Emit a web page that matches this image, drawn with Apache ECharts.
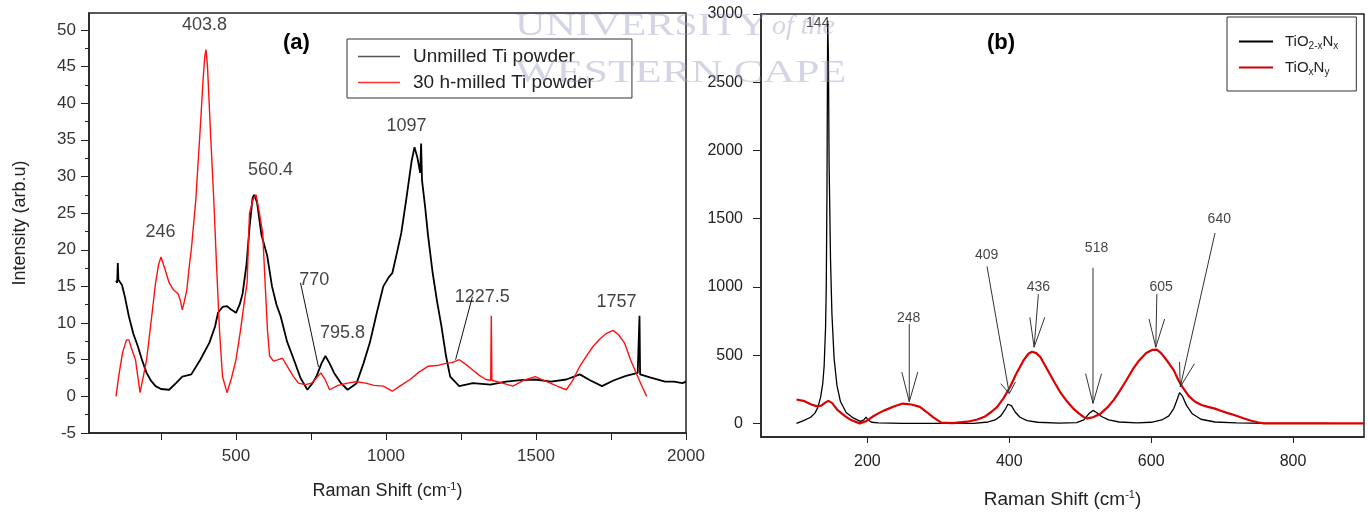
<!DOCTYPE html>
<html><head><meta charset="utf-8">
<script src="https://cdn.jsdelivr.net/npm/echarts@6/dist/echarts.min.js"></script>
<style>html,body{margin:0;padding:0;background:#fff}#c{width:1368px;height:514px}</style>
</head><body><div id="c"></div>
<script>
// ---------- Panel (a) data ----------
const unmilled = [[100,15.8],[104,15.5],[106,18.2],[108,15.9],[120,15.2],[130,13.5],[143,10.9],[158,8.5],[173,6.8],[188,4.8],[202,3.2],[217,2.1],[232,1.4],[250,1.0],[277,0.9],[300,1.8],[321,2.7],[351,3.0],[381,5.0],[411,7.3],[430,9.5],[440,11.4],[455,12.2],[470,12.3],[485,11.8],[500,11.4],[512,12.5],[522,14.0],[535,18],[545,23],[555,27],[560,27.5],[570,26.5],[585,22],[604,19.2],[620,15],[635,12.5],[649,10.9],[670,7.5],[693,5.0],[715,2.5],[738,0.9],[755,1.8],[768,2.7],[785,4.5],[798,5.5],[812,4.5],[827,3.2],[850,1.8],[872,0.9],[902,1.8],[925,4.5],[946,7.3],[970,11.5],[991,15],[1010,16.3],[1021,16.8],[1036,19.5],[1051,22.3],[1068,27],[1085,32],[1095,34],[1105,32.5],[1114,30.5],[1117,34.5],[1120,29.5],[1130,26],[1140,22],[1155,17],[1170,13],[1185,9.5],[1200,5.5],[1214,2.7],[1244,1.4],[1290,1.8],[1348,1.6],[1400,2.0],[1450,2.2],[1497,2.3],[1550,2.0],[1601,2.3],[1646,3.0],[1680,2.2],[1720,1.4],[1760,2.2],[1800,2.8],[1839,3.2],[1844,3.0],[1845,11],[1847,3.0],[1880,2.6],[1930,2.0],[1960,2.0],[1988,1.8],[2000,2.0]];
const milled = [[100,0],[110,3],[122,6],[135,7.7],[143,7.7],[152,6.5],[165,5.0],[175,2],[180,0.5],[190,2.5],[202,5.0],[215,9.5],[232,15.5],[242,18],[250,19],[262,17.5],[277,15.5],[292,14.5],[307,14.0],[315,13],[321,11.8],[328,13],[336,14.5],[345,18],[351,20],[366,26.8],[380,36],[390,43],[396,46.4],[400,47.3],[405,45],[415,36],[426,26.8],[435,18],[445,9],[455,2.7],[470,0.5],[485,2.5],[500,5.0],[515,9],[528,13],[537,15.5],[545,25],[558,27],[567,27.5],[578,25],[589,22.3],[597,15.5],[605,9],[612,5.5],[625,4.8],[641,5.0],[655,5.2],[671,4.1],[690,2.8],[708,1.8],[730,1.6],[753,1.8],[770,2.6],[783,3.2],[798,2.2],[812,0.9],[840,1.5],[872,1.8],[900,2.0],[932,1.8],[960,1.5],[991,1.4],[1021,0.7],[1050,1.5],[1080,2.3],[1110,3.3],[1140,4.1],[1170,4.2],[1199,4.5],[1220,4.6],[1244,5.0],[1265,4.4],[1289,3.6],[1310,2.9],[1333,2.3],[1349,2.2],[1351,11],[1353,2.2],[1380,1.9],[1423,1.4],[1460,2.2],[1497,2.7],[1530,2.1],[1571,1.4],[1601,0.9],[1620,2.0],[1646,4.1],[1668,5.5],[1690,6.8],[1712,7.8],[1735,8.6],[1757,9.0],[1775,8.4],[1795,7.3],[1815,5.0],[1839,2.7],[1855,1.2],[1869,0]];
const aNames = ['Unmilled Ti powder', '30 h-milled Ti powder'];
const aLabels = [[395,50.7,'403.8'],[248,22.4,'246'],[615,30.9,'560.4'],[1068,36.9,'1097'],[761,15.9,'770'],[855,8.7,'795.8'],[1321,13.6,'1227.5'],[1768,12.8,'1757']];
const aPointers = [[[715,15.5],[775,4.0]], [[1288,13.6],[1232,5.0]]];
const aXTicks = [250,500,750,1000,1250,1500,1750,2000];
const aXLabels = [500,1000,1500,2000];
const aYMajor = [-5,0,5,10,15,20,25,30,35,40,45,50];
const aYMinor = [-2.5,2.5,7.5,12.5,17.5,22.5,27.5,32.5,37.5,42.5,47.5];

// ---------- Panel (b) data ----------
const tio2xnx = [[100,0],[110,20],[120,45],[126,75],[130,115],[134,190],[137,290],[139,420],[141,700],[142,1000],[143,1700],[144,2950],[145,2700],[146,1900],[148,1200],[150,800],[153,480],[157,280],[162,160],[170,80],[180,40],[190,15],[195,25],[198,45],[201,25],[206,8],[215,3],[250,0],[350,0],[370,10],[380,25],[388,55],[394,100],[398,140],[400,150],[403,130],[408,85],[415,45],[425,20],[440,8],[470,2],[495,5],[505,25],[512,70],[518,95],[523,80],[530,50],[540,25],[555,10],[580,3],[600,8],[615,25],[625,55],[632,110],[637,180],[640,225],[644,200],[650,130],[658,70],[670,30],[690,10],[720,3],[760,0],[850,0]];
const tioxny = [[100,175],[110,165],[120,140],[128,126],[135,130],[140,150],[145,165],[150,150],[158,97],[168,55],[177,24],[189,0],[198,15],[207,48],[216,75],[225,97],[238,125],[250,145],[262,138],[274,121],[283,85],[292,48],[304,5],[320,2],[341,12],[355,28],[365,48],[375,85],[383,121],[392,185],[401,267],[410,365],[420,461],[427,510],[432,525],[438,515],[444,485],[453,400],[462,316],[471,235],[480,170],[490,110],[498,73],[505,45],[510,36],[518,45],[529,73],[538,115],[547,170],[556,240],[565,316],[574,395],[583,461],[593,515],[602,539],[608,540],[614,515],[623,455],[632,388],[638,320],[644,267],[653,200],[662,158],[671,135],[680,121],[690,108],[698,92],[708,75],[717,61],[730,38],[741,19],[750,8],[759,0],[900,0]];
const bNames = ['TiO2-xNx', 'TiOxNy'];
const bLegendRich = {'TiO2-xNx': '{n|TiO}{s|2-x}{n|N}{s|x}', 'TiOxNy': '{n|TiO}{s|x}{n|N}{s|y}'};
const bLabels = [[130,2936,'144'],[258,772,'248'],[368,1235,'409'],[441,1000,'436'],[523,1285,'518'],[614,1000,'605'],[696,1500,'640']];
const bPointers = [
  [[259,728],[259,158]], [[248.5,376],[259,158],[271,376]],
  [[368.6,1150],[400,218]], [[388,291],[400,218],[408.7,303]],
  [[441,947],[435,558]], [[429,777],[435,558],[450,777]],
  [[518,1141],[518,146]], [[507.6,364],[518,146],[530,364]],
  [[608,947],[606.5,558]], [[597,765],[606.5,558],[619,765]],
  [[690,1395],[641,267]], [[640,449],[641,267],[661,437]]
];
const bXTicks = [200,400,600,800];
const bYTicks = [0,500,1000,1500,2000,2500,3000];

const FONT = 'Liberation Sans, Arial, sans-serif';
const axisCol = '#222';
const wmFill = 'rgba(150,153,190,0.42)';
const chart = echarts.init(document.getElementById('c'), null, {renderer: 'canvas'});
const plain = v => String(v);

const option = {
  animation: false,
  textStyle: {fontFamily: FONT},
  grid: [
    {left: 89, top: 13, width: 597, height: 420, show: true, borderColor: axisCol, borderWidth: 1.5, backgroundColor: 'transparent'},
    {left: 761, top: 14, width: 603, height: 426, show: true, borderColor: axisCol, borderWidth: 1.5, backgroundColor: 'transparent'}
  ],
  xAxis: [
    {gridIndex: 0, type: 'value', min: 10, max: 2000,
     name: '{n|Raman Shift (cm}{p|-1}{n|)}', nameLocation: 'middle', nameGap: 48,
     nameTextStyle: {rich: {n: {fontSize: 18, color: '#222', fontFamily: FONT}, p: {fontSize: 11, color: '#222', fontFamily: FONT, padding: [0,0,10,0]}}},
     axisLine: {onZero: false, lineStyle: {color: axisCol, width: 1.5}},
     axisTick: {customValues: aXTicks, length: 7, lineStyle: {color: axisCol}},
     axisLabel: {customValues: aXLabels, fontSize: 17, color: '#333', margin: 15, formatter: plain},
     splitLine: {show: false}},
    {gridIndex: 1, type: 'value', min: 50, max: 900,
     name: '{n|Raman Shift (cm}{p|-1}{n|)}', nameLocation: 'middle', nameGap: 52,
     nameTextStyle: {rich: {n: {fontSize: 19, color: '#222', fontFamily: FONT}, p: {fontSize: 11, color: '#222', fontFamily: FONT, padding: [0,0,10,0]}}},
     axisLine: {onZero: false, lineStyle: {color: axisCol, width: 1.5}},
     axisTick: {customValues: bXTicks, length: 6, lineStyle: {color: axisCol}},
     axisLabel: {customValues: bXTicks, fontSize: 16, color: '#222', margin: 17, formatter: plain},
     splitLine: {show: false}}
  ],
  yAxis: [
    {gridIndex: 0, type: 'value', min: -5, max: 52.3,
     name: 'Intensity (arb.u)', nameLocation: 'middle', nameGap: 60, nameRotate: 90,
     nameTextStyle: {fontSize: 18, color: '#222'},
     axisLine: {onZero: false, lineStyle: {color: axisCol, width: 1.5}},
     axisTick: {customValues: aYMajor, length: 8, lineStyle: {color: axisCol}},
     axisLabel: {customValues: aYMajor, fontSize: 17, color: '#333', margin: 13, formatter: plain},
     splitLine: {show: false}},
    {gridIndex: 0, type: 'value', min: -5, max: 52.3, position: 'left',
     axisLine: {show: false},
     axisTick: {customValues: aYMinor, length: 4, lineStyle: {color: axisCol}},
     axisLabel: {show: false}, splitLine: {show: false}},
    {gridIndex: 1, type: 'value', min: -100, max: 3000,
     axisLine: {onZero: false, lineStyle: {color: axisCol, width: 1.5}},
     axisTick: {customValues: bYTicks, length: 8, lineStyle: {color: axisCol}},
     axisLabel: {customValues: bYTicks, fontSize: 16, color: '#222', margin: 18, formatter: plain},
     splitLine: {show: false}}
  ],
  legend: [
    {data: aNames, orient: 'vertical', left: 347, top: 39, itemWidth: 42, itemHeight: 1.5, itemGap: 7,
     icon: 'rect', padding: [8, 38, 6, 11], borderColor: '#333', borderWidth: 1, backgroundColor: '#fff',
     textStyle: {fontSize: 19, color: '#222', padding: [0,0,0,8]}, selectedMode: false},
    {data: bNames, orient: 'vertical', left: 1227, top: 17, itemWidth: 34, itemHeight: 2, itemGap: 9,
     icon: 'rect', padding: [17, 18, 14, 12], borderColor: '#333', borderWidth: 1, backgroundColor: '#fff',
     formatter: function (n) { return bLegendRich[n]; },
     textStyle: {color: '#222', padding: [0,0,0,7], rich: {
       n: {fontSize: 15, color: '#222', fontFamily: FONT},
       s: {fontSize: 10, color: '#222', fontFamily: FONT, padding: [9,0,0,0]}}},
     selectedMode: false}
  ],
  graphic: [
    {type: 'text', left: 515, top: 11, z: 200, scaleX: 1.36, style: {text: 'UNIVERSITY', fontFamily: 'Liberation Serif, serif', fontSize: 31, fill: wmFill}},
    {type: 'text', left: 772, top: 13, z: 200, style: {text: 'of the', fontFamily: 'Liberation Serif, serif', fontStyle: 'italic', fontSize: 28, fill: wmFill}},
    {type: 'text', left: 515, top: 58, z: 200, scaleX: 1.42, style: {text: 'WESTERN CAPE', fontFamily: 'Liberation Serif, serif', fontSize: 31, fill: wmFill}},
    {type: 'text', left: 283, top: 32, z: 100, style: {text: '(a)', fontFamily: FONT, fontWeight: 'bold', fontSize: 22, fill: '#000'}},
    {type: 'text', left: 987, top: 32, z: 100, style: {text: '(b)', fontFamily: FONT, fontWeight: 'bold', fontSize: 22, fill: '#000'}}
  ],
  series: [
    {name: aNames[0], type: 'line', xAxisIndex: 0, yAxisIndex: 0, data: unmilled, symbol: 'none', z: 3,
     lineStyle: {color: '#000', width: 1.8}, itemStyle: {color: '#555'}},
    {name: aNames[1], type: 'line', xAxisIndex: 0, yAxisIndex: 0, data: milled, symbol: 'none', z: 4,
     lineStyle: {color: '#ff1010', width: 1.4}, itemStyle: {color: '#ff3030'}},
    {name: bNames[0], type: 'line', xAxisIndex: 1, yAxisIndex: 2, data: tio2xnx, symbol: 'none', z: 3,
     lineStyle: {color: '#000', width: 1.3}, itemStyle: {color: '#000'}},
    {name: bNames[1], type: 'line', xAxisIndex: 1, yAxisIndex: 2, data: tioxny, symbol: 'none', z: 4,
     lineStyle: {color: '#dd0000', width: 2.2}, itemStyle: {color: '#cc0000'}},
    {type: 'scatter', xAxisIndex: 0, yAxisIndex: 0, data: aLabels, symbolSize: 0, z: 6, silent: true,
     label: {show: true, position: 'inside', formatter: p => p.data[2], fontSize: 18, color: '#111', fontFamily: FONT}},
    {type: 'lines', coordinateSystem: 'cartesian2d', xAxisIndex: 0, yAxisIndex: 0, polyline: true, z: 6, silent: true,
     data: aPointers.map(c => ({coords: c})), lineStyle: {color: '#111', width: 1, opacity: 1}},
    {type: 'scatter', xAxisIndex: 1, yAxisIndex: 2, data: bLabels, symbolSize: 0, z: 6, silent: true,
     label: {show: true, position: 'inside', formatter: p => p.data[2], fontSize: 14, color: '#111', fontFamily: FONT}},
    {type: 'lines', coordinateSystem: 'cartesian2d', xAxisIndex: 1, yAxisIndex: 2, polyline: true, z: 6, silent: true,
     data: bPointers.map(c => ({coords: c})), lineStyle: {color: '#333', width: 1, opacity: 1}}
  ]
};
chart.setOption(option);
</script>
</body></html>
